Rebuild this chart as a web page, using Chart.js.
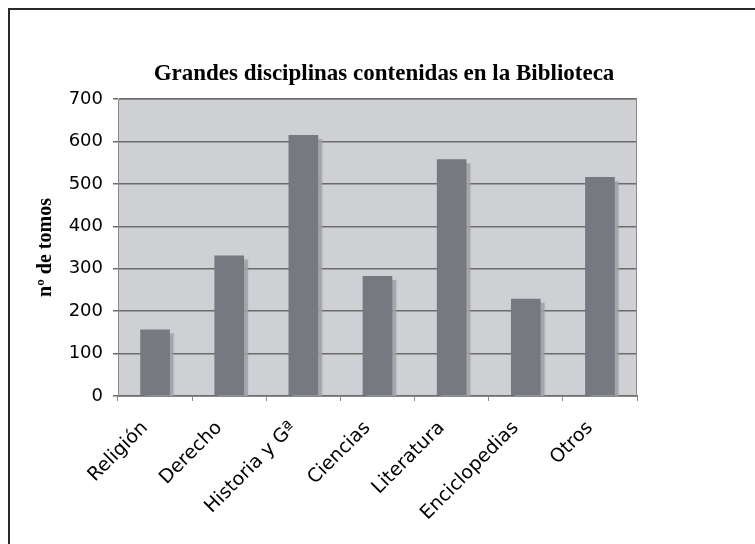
<!DOCTYPE html>
<html>
<head>
<meta charset="utf-8">
<script src="https://cdn.jsdelivr.net/npm/chart.js@4"></script>
<style>
    html, body { margin: 0; padding: 0; background: #fff; overflow: hidden; }
    #marco { position: absolute; left: 8px; top: 8px; width: 900px; height: 700px; border: 2px solid #2a2a2a; }
    #wrap { position: absolute; left: 0; top: 0; width: 755px; height: 544px; }
</style>
</head>
<body>
<div id="marco"></div>
<div id="wrap"><canvas id="bar-chart" width="755" height="544"></canvas></div>
<script>
var disciplinas = ['Religión', 'Derecho', 'Historia y Gª', 'Ciencias', 'Literatura', 'Enciclopedias', 'Otros'];
var tomos = [157, 331, 615, 283, 558, 229, 516];
var titulo = 'Grandes disciplinas contenidas en la Biblioteca';
var tituloEje = 'nº de tomos';

// fondo gris del area de trazado + marco
var fondoArea = {
    id: 'fondoArea',
    beforeDraw: function(chart) {
        var a = chart.chartArea;
        var ctx = chart.ctx;
        ctx.save();
        ctx.fillStyle = '#cfd0d3';
        ctx.fillRect(a.left, a.top, a.right - a.left, a.bottom - a.top);
        ctx.restore();
    },
    afterDraw: function(chart) {
        var a = chart.chartArea;
        var ctx = chart.ctx;
        ctx.save();
        ctx.strokeStyle = '#8a8a8c';
        ctx.lineWidth = 1;
        ctx.strokeRect(a.left + 0.5, a.top + 0.5, a.right - a.left - 1, a.bottom - a.top);
        // titulo
        ctx.fillStyle = '#000';
        ctx.font = 'bold 23px "Liberation Serif"';
        ctx.textAlign = 'center';
        ctx.textBaseline = 'alphabetic';
        ctx.fillText(titulo, 384, 80);
        ctx.restore();
    }
};

// sombra a la derecha de las barras
var sombra = {
    id: 'sombra',
    beforeDatasetsDraw: function(chart) {
        var ctx = chart.ctx;
        ctx.save();
        ctx.shadowColor = 'rgba(160,160,165,0.9)';
        ctx.shadowOffsetX = 4;
        ctx.shadowOffsetY = 4;
        ctx.shadowBlur = 1;
    },
    afterDatasetsDraw: function(chart) {
        chart.ctx.restore();
    }
};

var ctx = document.getElementById('bar-chart');
var chart = new Chart(ctx, {
    type: 'bar',
    data: {
        labels: disciplinas,
        datasets: [{
            label: 'tomos',
            backgroundColor: '#767980',
            borderWidth: 0,
            barPercentage: 0.4,
            categoryPercentage: 1,
            data: tomos
        }]
    },
    plugins: [fondoArea, sombra],
    options: {
        responsive: false,
        animation: false,
        layout: { padding: { left: 34, right: 118, top: 99, bottom: 0 } },
        plugins: {
            legend: { display: false },
            tooltip: { enabled: false },
            title: { display: false }
        },
        scales: {
            x: {
                afterFit: function(s) { s.height = 148; },
                border: { display: true, color: '#6e6e6e', width: 2 },
                grid: { offset: true, drawOnChartArea: false, color: '#8a8a8a', tickLength: 5 },
                ticks: {
                    color: '#000',
                    font: { family: 'DejaVu Sans', size: 19 },
                    maxRotation: 45,
                    minRotation: 45,
                    padding: 16,
                    labelOffset: -10
                }
            },
            y: {
                min: 0,
                max: 700,
                afterFit: function(s) { s.width = 84; },
                border: { display: true, color: '#808080', width: 1 },
                grid: { color: '#6b6b6b', lineWidth: 1.5, tickLength: 5 },
                ticks: {
                    stepSize: 100,
                    color: '#000',
                    font: { family: 'DejaVu Sans', size: 18 },
                    padding: 10
                },
                title: {
                    display: true,
                    text: tituloEje,
                    color: '#000',
                    font: { family: 'Liberation Serif', size: 20, weight: 'bold' },
                    padding: 0
                }
            }
        }
    }
});
</script>
</body>
</html>
